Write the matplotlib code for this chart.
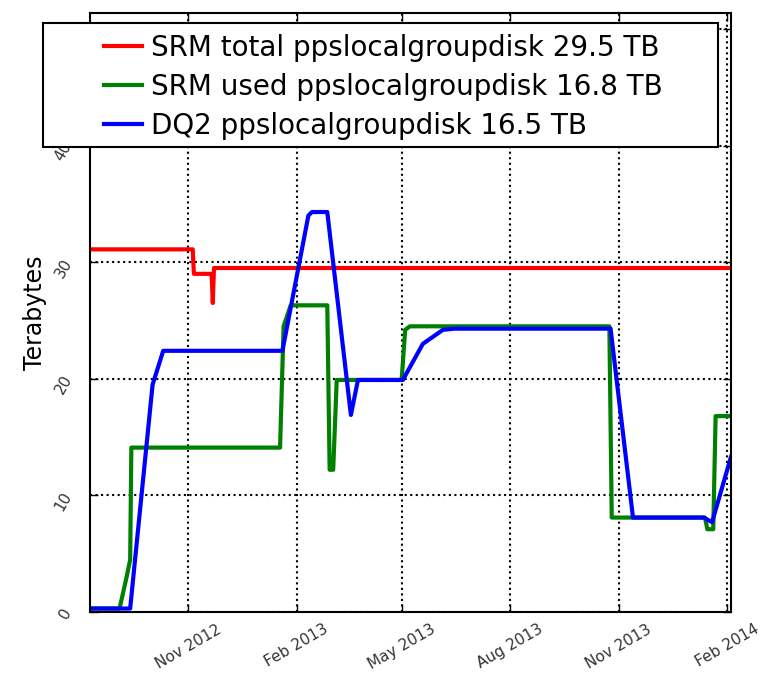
import matplotlib
matplotlib.use("Agg")
import matplotlib.pyplot as plt
import matplotlib.dates as mdates
from matplotlib.patches import Rectangle
import numpy as np
import pandas as pd

# SRM total
red_dates = ["2012-08-10", "2012-11-05", "2012-11-06", "2012-11-21", "2012-11-22",
             "2012-11-23", "2014-02-04"]
red_vals = [31.1, 31.1, 29.0, 29.0, 26.5, 29.5, 29.5]

# SRM used
green_dates = ["2012-08-10", "2012-09-04", "2012-09-10", "2012-09-13", "2012-09-14",
               "2013-01-18", "2013-01-21", "2013-01-27", "2013-02-27", "2013-03-01",
               "2013-03-04", "2013-03-07", "2013-05-01", "2013-05-04", "2013-05-08",
               "2013-10-24", "2013-10-26", "2014-01-13", "2014-01-15", "2014-01-20",
               "2014-01-22", "2014-02-04"]
green_vals = [0.3, 0.3, 3.0, 4.5, 14.1,
              14.1, 24.5, 26.3, 26.3, 12.2,
              12.2, 19.9, 19.9, 24.2, 24.5,
              24.5, 8.1, 8.1, 7.1, 7.1,
              16.8, 16.8]

# DQ2
blue_dates = ["2012-08-10", "2012-09-13", "2012-10-02", "2012-10-11", "2013-01-20",
              "2013-02-11", "2013-02-14", "2013-02-27", "2013-03-19", "2013-03-25",
              "2013-05-02", "2013-05-19", "2013-06-05", "2013-06-15", "2013-10-25",
              "2013-11-13", "2014-01-12", "2014-01-19", "2014-02-04"]
blue_vals = [0.3, 0.3, 19.5, 22.4, 22.4,
             34.0, 34.3, 34.3, 16.9, 19.9,
             19.9, 23.0, 24.2, 24.3, 24.3,
             8.1, 8.1, 7.7, 13.3]

labels = ["SRM total ppslocalgroupdisk 29.5 TB",
          "SRM used ppslocalgroupdisk 16.8 TB",
          "DQ2 ppslocalgroupdisk 16.5 TB"]

fig = plt.figure(figsize=(7.63, 6.75), dpi=100)
ax = fig.add_axes([0.118, 0.0933, 0.84, 0.888])

ax.plot(pd.to_datetime(red_dates), red_vals, color="r", lw=3, label=labels[0])
ax.plot(pd.to_datetime(green_dates), green_vals, color=(0, 0.5, 0), lw=3, label=labels[1])
ax.plot(pd.to_datetime(blue_dates), blue_vals, color="b", lw=3, label=labels[2])

ax.set_xlim(pd.Timestamp("2012-08-10"), pd.Timestamp("2014-02-04"))
ax.set_ylim(0, 51.4)
ax.set_yticks([0, 10, 20, 30, 40, 50])
ax.xaxis.set_major_locator(mdates.MonthLocator(bymonth=[2, 5, 8, 11]))
ax.xaxis.set_major_formatter(mdates.DateFormatter("%b %Y"))
ax.grid(True, color="k", linestyle=":", linewidth=1.5)
ax.tick_params(direction="in", top=True, right=True, length=6, width=1)
ax.tick_params(axis="x", pad=7)
ax.tick_params(axis="y", pad=11)
plt.setp(ax.get_xticklabels(), rotation=30, fontsize=11, color="#333333")
plt.setp(ax.get_yticklabels(), rotation=60, fontsize=11, color="#333333")
for s in ax.spines.values():
    s.set_linewidth(1.5)
ax.set_ylabel("Terabytes", fontsize=17, labelpad=4)

# legend box wider than its content, content centred (old mpl look)
box = Rectangle((-0.073, 0.775), 1.053, 0.207, transform=ax.transAxes,
                facecolor="white", edgecolor="k", lw=1.5, clip_on=False, zorder=4.9)
ax.add_patch(box)
leg = ax.legend(loc="center", bbox_to_anchor=(0.458, 0.876), frameon=False,
                fontsize=20, handlelength=1.37, handletextpad=0.32,
                labelspacing=0.4, borderpad=0.2)
leg.set_zorder(5)

fig.savefig("out.png", dpi=100)
